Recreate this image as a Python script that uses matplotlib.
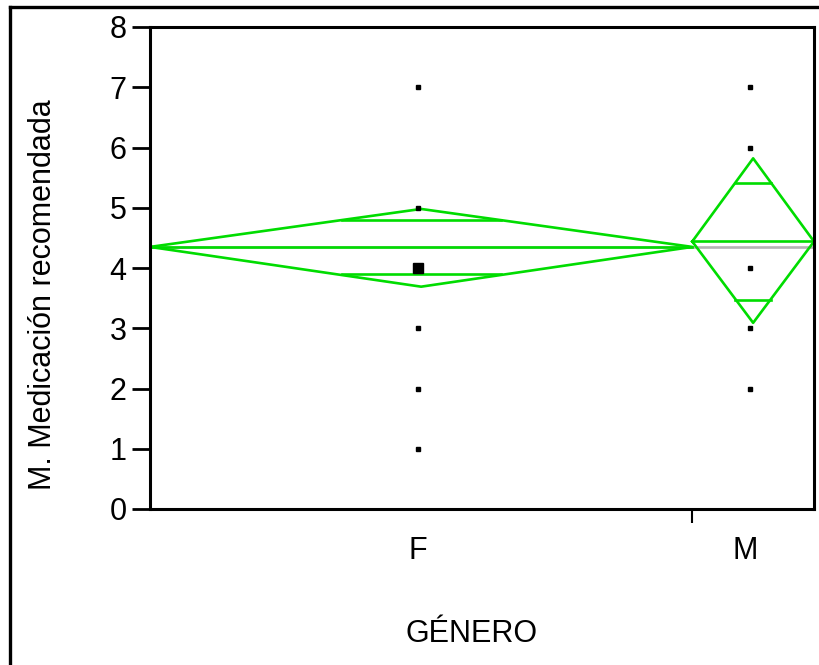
import numpy as np
import matplotlib
matplotlib.use("Agg")
import matplotlib.pyplot as plt
from matplotlib.lines import Line2D

plt.rcParams['font.family'] = ['Liberation Sans', 'DejaVu Sans']

# data
groups = ["F", "M"]
group_n = [49, 11]                 # sets the width of each group
group_means = [4.35, 4.44]
ci_low = [3.69, 3.09]
ci_high = [4.98, 5.82]
grand_mean = 4.35
f_values = [7, 5, 4, 3, 2, 1]
m_values = [7, 6, 4, 3, 2]
big_point = ("F", 4)               # drawn with the larger marker
y_ticks = [0, 1, 2, 3, 4, 5, 6, 7, 8]

green = "#00dc00"
lw = 1.9

fig = plt.figure(figsize=(8.19, 6.65), dpi=100)
ax = fig.add_axes([150 / 819, (665 - 509) / 665, 664 / 819, 482 / 665])

total = sum(group_n)
edges = np.concatenate([[0], np.cumsum(group_n)])
centers = (edges[:-1] + edges[1:]) / 2

# grand mean (grey) under everything
ax.plot([0, total], [grand_mean, grand_mean], color="#b4b4b4", lw=lw, zorder=1)

for i, g in enumerate(groups):
    x0, x1, xc = edges[i], edges[i + 1], centers[i]
    m, lo, hi = group_means[i], ci_low[i], ci_high[i]
    # means diamond
    ax.plot([x0, xc, x1, xc, x0], [m, hi, m, lo, m], color=green, lw=lw, zorder=2)
    ax.plot([x0, x1], [m, m], color=green, lw=lw, zorder=2)
    # overlap marks
    half = (hi - m) / np.sqrt(2)
    frac = 1 - half / (hi - m)
    w = (x1 - x0) / 2 * frac
    for yy in (m + half, m - half):
        ax.plot([xc - w, xc + w], [yy, yy], color=green, lw=lw, zorder=2)

# data points (drawn a touch left of the group centre, as in the picture)
for g, vals in zip(groups, [f_values, m_values]):
    xc = centers[groups.index(g)] - 0.25
    for v in vals:
        size = 7 if (g, v) == big_point else 3.5
        ax.plot([xc], [v], marker="s", ms=size, color="black", mec="black", ls="none", zorder=3)

ax.set_xlim(0, total)
ax.set_ylim(0, 8)
ax.set_yticks(y_ticks)
ax.set_yticklabels([str(t) for t in y_ticks], fontsize=22)
ax.set_xticks([edges[1]])
ax.set_xticklabels([""])
ax.tick_params(axis="y", direction="out", length=13, width=2, pad=4)
ax.tick_params(axis="x", direction="out", length=10, width=1.5)
for s in ax.spines.values():
    s.set_linewidth(2.2)

label_x = [418, 745]
for g, px in zip(groups, label_x):
    fig.text(px / 819, 1 - 551 / 665, g, ha="center", va="center", fontsize=22)

fig.text(43 / 819, 1 - 295 / 665, "M. Medicación recomendada", rotation=90,
         ha="center", va="center", fontsize=22)
fig.text(472 / 819, 1 - 634 / 665, "GÉNERO", ha="center", va="center", fontsize=22)

# outer frame (left and top edges)
fig.add_artist(Line2D([10 / 819, 10 / 819], [0, 1 - 7 / 665], transform=fig.transFigure,
                      color="black", lw=2.4))
fig.add_artist(Line2D([10 / 819, 1], [1 - 7 / 665, 1 - 7 / 665], transform=fig.transFigure,
                      color="black", lw=2.4))

fig.savefig("out.png", dpi=100, facecolor="white")
